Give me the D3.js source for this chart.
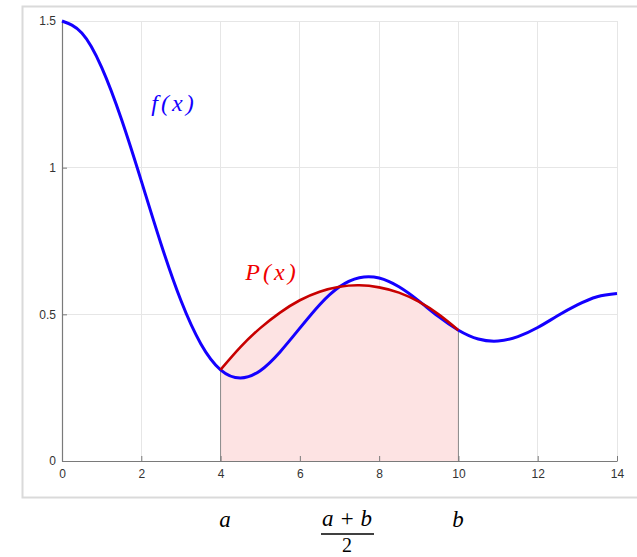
<!DOCTYPE html>
<html><head><meta charset="utf-8">
<script src="https://cdn.jsdelivr.net/npm/d3@7"></script>
<style>
html,body{margin:0;padding:0;background:#fff;}
svg{display:block;}
</style></head>
<body>
<svg id="chart" width="637" height="557"></svg>
<script>
// f(x) samples
const fx = [0,0.5,1,1.5,2,2.5,3,3.5,4,4.5,5,5.5,6,6.5,7,7.5,8,8.5,9,9.5,10,10.5,11,11.5,12,12.5,13,13.5,14];
const fy = [1.5,1.459,1.342,1.165,0.955,0.739,0.547,0.400,0.311,0.283,0.308,0.372,0.453,0.533,0.594,0.625,0.624,0.594,0.546,0.492,0.446,0.416,0.409,0.424,0.455,0.495,0.532,0.560,0.571];
// P(x) samples
const px = [4,4.5,5,5.5,6,6.5,7,7.5,8,8.5,9,9.5,10];
const py = [0.311,0.388,0.453,0.506,0.548,0.577,0.594,0.599,0.592,0.574,0.543,0.500,0.446];
const xTicks = [0,2,4,6,8,10,12,14];
const yTicks = [0,0.5,1,1.5];
const xTickLabels = ["0","2","4","6","8","10","12","14"];
const yTickLabels = ["0","0.5","1","1.5"];

const svg = d3.select("#chart");
// outer figure frame
svg.append("rect").attr("x",22.5).attr("y",6.5).attr("width",640).attr("height",491)
  .attr("fill","none").attr("stroke","#dadada").attr("stroke-width",2);

const x = d3.scaleLinear().domain([0,14]).range([62,617]);
const y = d3.scaleLinear().domain([0,1.5]).range([461,21]);

// grid
const g = svg.append("g");
g.selectAll("line.vg").data(xTicks.slice(1)).join("line")
  .attr("x1",d=>x(d)).attr("x2",d=>x(d)).attr("y1",y(0)).attr("y2",y(1.5))
  .attr("stroke","#e6e6e6").attr("stroke-width",1).attr("shape-rendering","crispEdges");
g.selectAll("line.hg").data(yTicks.slice(1)).join("line")
  .attr("y1",d=>y(d)).attr("y2",d=>y(d)).attr("x1",x(0)).attr("x2",x(14))
  .attr("stroke","#e6e6e6").attr("stroke-width",1).attr("shape-rendering","crispEdges");

const fData = fx.map((v,i)=>[v,fy[i]]);
const pData = px.map((v,i)=>[v,py[i]]);

// shaded area under P
svg.append("path").datum(pData)
  .attr("d", d3.area().x(d=>x(d[0])).y0(y(0)).y1(d=>y(d[1])).curve(d3.curveNatural))
  .attr("fill","#fde3e3");
// vertical edges
[px[0], px[px.length-1]].forEach((v,i)=>{
  svg.append("line").attr("x1",x(v)).attr("x2",x(v)).attr("y1",y(0)).attr("y2",y(py[i===0?0:py.length-1]))
    .attr("stroke","#8a8a8a").attr("stroke-width",1);
});

// axes
const xAxis = d3.axisBottom(x).tickValues(xTicks).tickFormat((d,i)=>xTickLabels[i]).tickSizeInner(-5).tickSizeOuter(0).tickPadding(8);
const yAxis = d3.axisLeft(y).tickValues(yTicks).tickFormat((d,i)=>yTickLabels[i]).tickSizeInner(-5).tickSizeOuter(0).tickPadding(6);
const gx = svg.append("g").attr("transform",`translate(0,${y(0)})`).call(xAxis);
const gy = svg.append("g").attr("transform",`translate(${x(0)},0)`).call(yAxis);
[gx,gy].forEach(a=>{
  a.select(".domain").attr("stroke","#7a7a7a").attr("stroke-width",1.2);
  a.selectAll(".tick line").attr("stroke","#7a7a7a");
  a.selectAll("text").attr("fill","#333").attr("font-family","'Liberation Sans', Arial, sans-serif").attr("font-size",12);
});

// curves
svg.append("path").datum(fData)
  .attr("d", d3.line().x(d=>x(d[0])).y(d=>y(d[1])).curve(d3.curveNatural))
  .attr("fill","none").attr("stroke","#1400ff").attr("stroke-width",3);
svg.append("path").datum(pData)
  .attr("d", d3.line().x(d=>x(d[0])).y(d=>y(d[1])).curve(d3.curveNatural))
  .attr("fill","none").attr("stroke","#c80000").attr("stroke-width",2.6);

// labels
function lab(txt, xp, yp, color, size, italic, ls){
  return svg.append("text").attr("x",xp).attr("y",yp).attr("fill",color)
    .attr("font-family","'Liberation Serif', serif").attr("font-size",size)
    .attr("font-style",italic?"italic":"normal").attr("text-anchor","middle")
    .attr("letter-spacing", ls||0).text(txt);
}
lab("f(x)", 174, 111, "#1400ff", 24, true, 3);
lab("P(x)", 272, 280, "#f00000", 24, true, 3);
lab("a", 225, 527, "#000", 23, true);
lab("a + b", 347, 526, "#000", 23, true);
svg.append("line").attr("x1",321).attr("x2",374).attr("y1",534).attr("y2",534).attr("stroke","#000").attr("stroke-width",1.6);
lab("2", 347, 552, "#000", 20, false);
lab("b", 458, 527, "#000", 23, true);
</script>
</body></html>
